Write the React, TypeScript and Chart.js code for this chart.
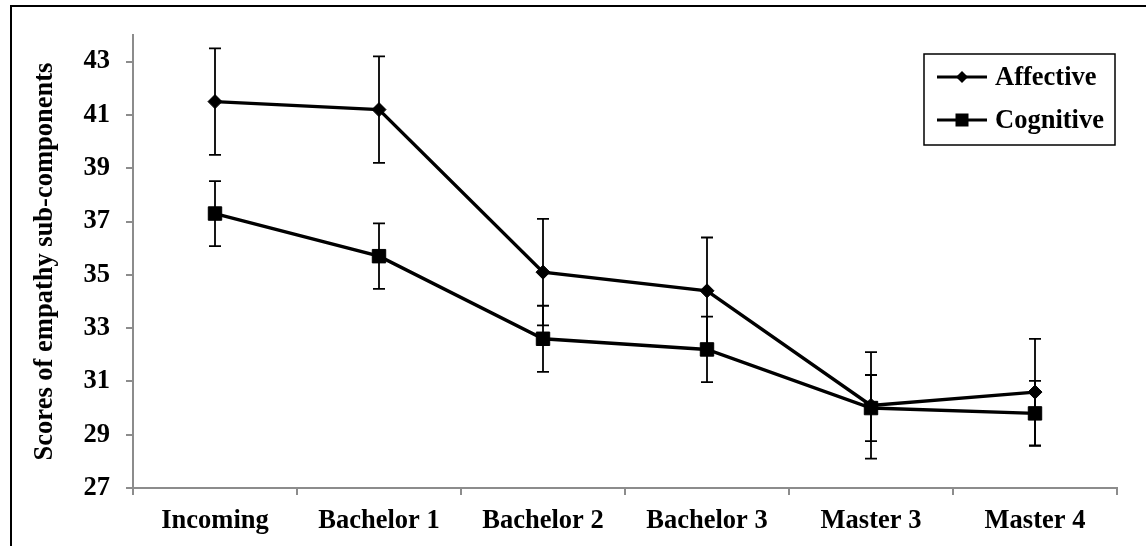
import React, { useEffect, useRef } from "react";
import { Chart, registerables } from "chart.js";

Chart.register(...registerables);

const categories = ["Incoming", "Bachelor 1", "Bachelor 2", "Bachelor 3", "Master 3", "Master 4"];
const affective = [41.5, 41.2, 35.1, 34.4, 30.1, 30.6];
const affectiveErr = [2.0, 2.0, 2.0, 2.0, 2.0, 2.0];
const cognitive = [37.3, 35.7, 32.6, 32.2, 30.0, 29.8];
const cognitiveErr = [1.22, 1.23, 1.24, 1.23, 1.24, 1.22];
const seriesNames = ["Affective", "Cognitive"];
const yTitle = "Scores of empathy sub-components";
const yTickValues = [27, 29, 31, 33, 35, 37, 39, 41, 43];
const yMin = 27;
const yMax = 44;

const FONT = "'Liberation Serif', 'Times New Roman', serif";
const FS = 26.5;

const errorBarPlugin = {
  id: "errorBarPlugin",
  beforeDatasetsDraw(chart: any) {
    const ctx = chart.ctx;
    const yScale = chart.scales.y;
    chart.data.datasets.forEach((ds: any, i: number) => {
      const meta = chart.getDatasetMeta(i);
      const errs: number[] = ds.errorValues || [];
      meta.data.forEach((pt: any, j: number) => {
        const v = ds.data[j];
        const e = errs[j];
        if (e == null) return;
        const px = pt.x;
        const yt = yScale.getPixelForValue(v + e);
        const yb = yScale.getPixelForValue(v - e);
        ctx.save();
        ctx.strokeStyle = "#000";
        ctx.lineWidth = 1.8;
        ctx.beginPath();
        ctx.moveTo(px, yt);
        ctx.lineTo(px, yb);
        ctx.moveTo(px - 6, yt);
        ctx.lineTo(px + 6, yt);
        ctx.moveTo(px - 6, yb);
        ctx.lineTo(px + 6, yb);
        ctx.stroke();
        ctx.restore();
      });
    });
  },
};

const legendPlugin = {
  id: "boxLegend",
  afterDraw(chart: any) {
    const ctx = chart.ctx;
    const area = chart.chartArea;
    const w = 191;
    const h = 91;
    const left = area.right - 2 - w;
    const top = area.top + 19;
    ctx.save();
    ctx.strokeStyle = "#000";
    ctx.lineWidth = 1.5;
    ctx.strokeRect(left, top, w, h);
    const rows = [top + 23, top + 66];
    chart.data.datasets.forEach((ds: any, i: number) => {
      const cy = rows[i];
      const x0 = left + 13;
      const x1 = left + 63;
      ctx.strokeStyle = "#000";
      ctx.lineWidth = 3;
      ctx.beginPath();
      ctx.moveTo(x0, cy);
      ctx.lineTo(x1, cy);
      ctx.stroke();
      const mx = (x0 + x1) / 2;
      ctx.fillStyle = "#000";
      ctx.beginPath();
      if (ds.pointStyle === "rectRot") {
        const r = 6;
        ctx.moveTo(mx - r, cy);
        ctx.lineTo(mx, cy - r);
        ctx.lineTo(mx + r, cy);
        ctx.lineTo(mx, cy + r);
        ctx.closePath();
      } else {
        const s = 6.5;
        ctx.rect(mx - s, cy - s, 2 * s, 2 * s);
      }
      ctx.fill();
      ctx.fillStyle = "#000";
      ctx.font = `bold ${FS}px ${FONT}`;
      ctx.textAlign = "left";
      ctx.textBaseline = "middle";
      ctx.fillText(ds.label, left + 71, cy + 1);
    });
    ctx.restore();
  },
};

export default function App() {
  const canvasRef = useRef<HTMLCanvasElement>(null);

  useEffect(() => {
    if (!canvasRef.current) return;
    const chart = new Chart(canvasRef.current, {
      type: "line",
      data: {
        labels: categories,
        datasets: [
          {
            label: seriesNames[0],
            data: affective,
            errorValues: affectiveErr,
            borderColor: "#000",
            backgroundColor: "#000",
            borderWidth: 3.4,
            pointStyle: "rectRot",
            pointRadius: 7,
            pointBorderWidth: 1,
            pointBackgroundColor: "#000",
            pointBorderColor: "#000",
            tension: 0,
          } as any,
          {
            label: seriesNames[1],
            data: cognitive,
            errorValues: cognitiveErr,
            borderColor: "#000",
            backgroundColor: "#000",
            borderWidth: 3.4,
            pointStyle: "rect",
            pointRadius: 9.5,
            pointBorderWidth: 1,
            pointBackgroundColor: "#000",
            pointBorderColor: "#000",
            tension: 0,
          } as any,
        ],
      },
      options: {
        responsive: false,
        animation: false,
        devicePixelRatio: 1,
        layout: { padding: { left: 0, top: 35, right: 29, bottom: 0 } },
        plugins: {
          legend: { display: false },
          tooltip: { enabled: false },
        },
        scales: {
          x: {
            type: "category",
            offset: true,
            grid: {
              offset: true,
              drawOnChartArea: false,
              drawTicks: true,
              tickLength: 7,
              color: "#8c8c8c",
              lineWidth: 2,
            },
            border: { display: true, color: "#8c8c8c", width: 2 },
            ticks: {
              color: "#000",
              padding: 10,
              maxRotation: 0,
              autoSkip: false,
              font: { family: FONT, size: FS, weight: "bold", lineHeight: 1.2 },
            },
            afterFit(axis: any) {
              axis.height = 58;
            },
          },
          y: {
            type: "linear",
            min: yMin,
            max: yMax,
            grid: {
              drawOnChartArea: false,
              drawTicks: true,
              tickLength: 7,
              color: "#8c8c8c",
              lineWidth: 2,
            },
            border: { display: true, color: "#8c8c8c", width: 2 },
            ticks: {
              color: "#000",
              padding: 16,
              autoSkip: false,
              font: { family: FONT, size: FS, weight: "bold", lineHeight: 1.2 },
            },
            afterBuildTicks(axis: any) {
              axis.ticks = yTickValues.map((v) => ({ value: v }));
            },
            title: {
              display: true,
              text: yTitle,
              color: "#000",
              padding: { top: 29, bottom: 0 },
              font: { family: FONT, size: FS, weight: "bold", lineHeight: 1.2 },
            },
            afterFit(axis: any) {
              axis.width = 133;
            },
          },
        },
      } as any,
      plugins: [errorBarPlugin, legendPlugin],
    });
    return () => chart.destroy();
  }, []);

  return (
    <div
      style={{
        position: "fixed",
        left: 0,
        top: 0,
        width: 1146,
        height: 546,
        overflow: "hidden",
        background: "#fff",
      }}
    >
      <div
        style={{
          position: "absolute",
          left: 10,
          top: 5,
          width: 2000,
          height: 2000,
          borderLeft: "2.5px solid #000",
          borderTop: "2.5px solid #000",
        }}
      />
      <canvas
        ref={canvasRef}
        width={1146}
        height={546}
        style={{ position: "absolute", left: 0, top: 0 }}
      />
    </div>
  );
}
